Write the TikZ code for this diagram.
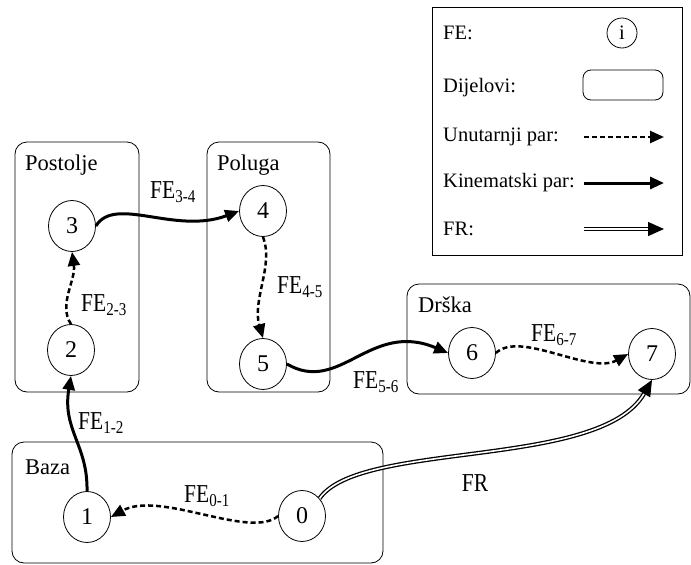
\documentclass[tikz,border=0pt]{standalone}
\usepackage{fontspec}
\usepackage{graphicx}
\setmainfont{Liberation Serif}
\usetikzlibrary{arrows.meta,shapes.geometric}
\newcommand{\felab}[1]{\scalebox{1}[1.2]{FE\textsubscript{#1}}}
\begin{document}
\begin{tikzpicture}[x=1pt,y=-1pt,
  fe/.style={draw,ellipse,minimum width=47pt,minimum height=51pt,inner sep=0pt,line width=0.8pt,font=\fontsize{24}{26}\selectfont},
  part/.style={draw,rounded corners=12pt,line width=0.8pt,inner sep=0pt},
  partlabel/.style={anchor=west,font=\fontsize{22.5}{25}\selectfont,inner sep=0pt},
  lbl/.style={font=\fontsize{21.5}{24}\selectfont,inner sep=0pt},
  leglbl/.style={anchor=west,font=\fontsize{20.5}{22}\selectfont,inner sep=0pt},
  kin/.style={line width=3pt,-{Triangle[length=14pt,width=12pt]}},
  unut/.style={line width=2.5pt,dash pattern=on 5pt off 3pt,-{Triangle[length=14pt,width=12pt]}},
  frs/.style={double,double distance=1.6pt,line width=1.3pt,-{Triangle[length=16pt,width=14pt]}},
]
\useasboundingbox (0,0) rectangle (691,565);

% parts (boxes)
\node[part,minimum width=124pt,minimum height=250pt] (postolje) at (77,267) {};
\node[part,minimum width=123pt,minimum height=250pt] (poluga) at (268.5,267) {};
\node[part,minimum width=283pt,minimum height=110pt] (drska) at (548.5,339) {};
\node[part,minimum width=371pt,minimum height=121pt] (baza) at (197.5,502.5) {};

\node[partlabel] (tpostolje) at (25,165) {Postolje};
\node[partlabel] (tpoluga) at (217,165) {Poluga};
\node[partlabel] (tdrska) at (418,305) {Drška};
\node[partlabel] (tbaza) at (25,467) {Baza};

% functional elements
\node[fe] (n3) at (72,226) {3};
\node[fe] (n2) at (71,350) {2};
\node[fe] (n4) at (263,211) {4};
\node[fe] (n5) at (263,364) {5};
\node[fe] (n6) at (472,353) {6};
\node[fe] (n7) at (652,354) {7};
\node[fe] (n1) at (87,517) {1};
\node[fe] (n0) at (302,516) {0};

% connectors
\draw[kin] (n1.north) .. controls (88,445) and (62,430) .. (n2.south);
\draw[unut] (n2.north) .. controls (58,305) and (76,280) .. (n3.south);
\draw[kin] (n3.east) .. controls (115,195) and (175,235) .. (n4.west);
\draw[unut] (n4.south) .. controls (274,265) and (252,300) .. (n5.north);
\draw[kin] (n5.east) .. controls (340,395) and (370,320) .. (n6.west);
\draw[unut] (n6.east) .. controls (520,330) and (590,375) .. (n7.west);
\draw[unut] (n0.west) .. controls (250,540) and (160,490) .. (n1.east);
\draw[frs] (n0.45) .. controls (360,440) and (600,470) .. (n7.south);

% connector labels
\node[lbl] (l12) at (101,423) {\felab{1-2}};
\node[lbl] (l23) at (104,305) {\felab{2-3}};
\node[lbl] (l34) at (173,192) {\felab{3-4}};
\node[lbl] (l45) at (300,287) {\felab{4-5}};
\node[lbl] (l56) at (376,382) {\felab{5-6}};
\node[lbl] (l67) at (554,335) {\felab{6-7}};
\node[lbl] (l01) at (207,496) {\felab{0-1}};
\node[lbl] (lfr) at (475,483) {\scalebox{1}[1.2]{FR}};

% legend
\node[draw,line width=0.8pt,minimum width=250pt,minimum height=248pt,inner sep=0pt] (legend) at (557,131) {};
\node[leglbl] (lgfe) at (443,33) {FE:};
\node[draw,circle,minimum size=30pt,inner sep=0pt,line width=0.8pt,font=\fontsize{20.5}{22}\selectfont] (lgcirc) at (622,33) {i};
\node[leglbl] (lgdij) at (443,88) {Dijelovi:};
\node[part,rounded corners=8pt,minimum width=80pt,minimum height=30pt] (lgbox) at (623,85) {};
\node[leglbl] (lgun) at (443,137) {Unutarnji par:};
\coordinate (ua) at (584,137); \coordinate (ub) at (664,137);
\draw[unut] (ua) -- (ub);
\node[leglbl] (lgkin) at (443,183) {Kinematski par:};
\coordinate (ka) at (584,183); \coordinate (kb) at (664,183);
\draw[kin] (ka) -- (kb);
\node[leglbl] (lgfr) at (443,229) {FR:};
\coordinate (fa) at (584,229); \coordinate (fb) at (664,229);
\draw[frs] (fa) -- (fb);
\end{tikzpicture}
\end{document}
